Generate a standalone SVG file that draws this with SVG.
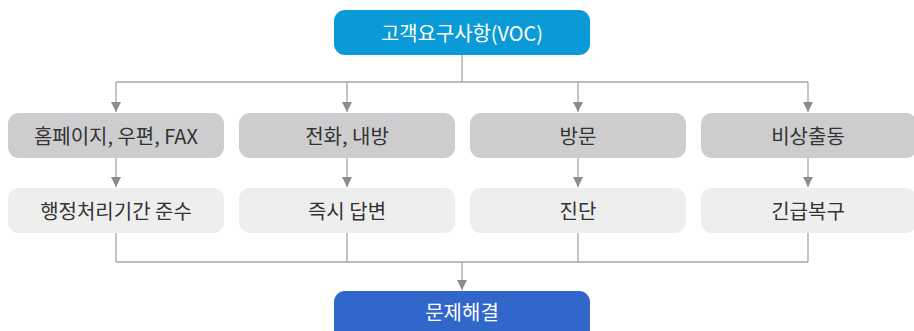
<svg xmlns="http://www.w3.org/2000/svg" width="914" height="331" viewBox="0 0 914 331">
<defs>
<style>
.t{font-family:"Noto Sans CJK KR","Noto Sans",sans-serif;font-size:20px;text-anchor:middle;dominant-baseline:central}
.w{fill:#ffffff}
.d{fill:#333333}
.r1{fill:#cdcdcf}
.r2{fill:#eeeeee}
.ln{stroke:#a6a6a6;stroke-width:1.3;fill:none}
</style>
<marker id="ah" viewBox="0 0 10 10" refX="10" refY="5" markerWidth="10" markerHeight="10" markerUnits="userSpaceOnUse" orient="auto">
<path d="M0,0 L10,5 L0,10 z" fill="#8c8c8c"/>
</marker>
</defs>
<g id="connectors">
<path class="ln" d="M462,55 V82 M116,82 H808"/>
<path class="ln" d="M116,82 V112" marker-end="url(#ah)"/>
<path class="ln" d="M347,82 V112" marker-end="url(#ah)"/>
<path class="ln" d="M578,82 V112" marker-end="url(#ah)"/>
<path class="ln" d="M808,82 V112" marker-end="url(#ah)"/>
<path class="ln" d="M116,158 V187" marker-end="url(#ah)"/>
<path class="ln" d="M347,158 V187" marker-end="url(#ah)"/>
<path class="ln" d="M578,158 V187" marker-end="url(#ah)"/>
<path class="ln" d="M808,158 V187" marker-end="url(#ah)"/>
<path class="ln" d="M116,233 V262 M347,233 V262 M578,233 V262 M808,233 V262 M116,262 H808"/>
<path class="ln" d="M462,262 V290" marker-end="url(#ah)"/>
</g>
<g id="voc">
<rect x="334" y="10" width="256" height="45" rx="11" fill="#0b9ad8"/>
<text class="t w" x="462" y="32" textLength="162" lengthAdjust="spacingAndGlyphs">고객요구사항(VOC)</text>
</g>
<g id="n1a"><rect class="r1" x="8" y="113" width="216" height="45" rx="11"/><text class="t d" x="116" y="135" textLength="164" lengthAdjust="spacingAndGlyphs">홈페이지, 우편, FAX</text></g>
<g id="n2a"><rect class="r1" x="239" y="113" width="216" height="45" rx="11"/><text class="t d" x="347" y="135">전화, 내방</text></g>
<g id="n3a"><rect class="r1" x="470" y="113" width="216" height="45" rx="11"/><text class="t d" x="578" y="135">방문</text></g>
<g id="n4a"><rect class="r1" x="701" y="113" width="216" height="45" rx="11"/><text class="t d" x="808" y="135">비상출동</text></g>
<g id="n1b"><rect class="r2" x="8" y="188" width="216" height="45" rx="11"/><text class="t d" x="116" y="210">행정처리기간 준수</text></g>
<g id="n2b"><rect class="r2" x="239" y="188" width="216" height="45" rx="11"/><text class="t d" x="347" y="210">즉시 답변</text></g>
<g id="n3b"><rect class="r2" x="470" y="188" width="216" height="45" rx="11"/><text class="t d" x="578" y="210">진단</text></g>
<g id="n4b"><rect class="r2" x="701" y="188" width="216" height="45" rx="11"/><text class="t d" x="808" y="210">긴급복구</text></g>
<g id="solve">
<rect x="334" y="291" width="256" height="50" rx="11" fill="#3166cb"/>
<text class="t w" x="462" y="311">문제해결</text>
</g>
</svg>
